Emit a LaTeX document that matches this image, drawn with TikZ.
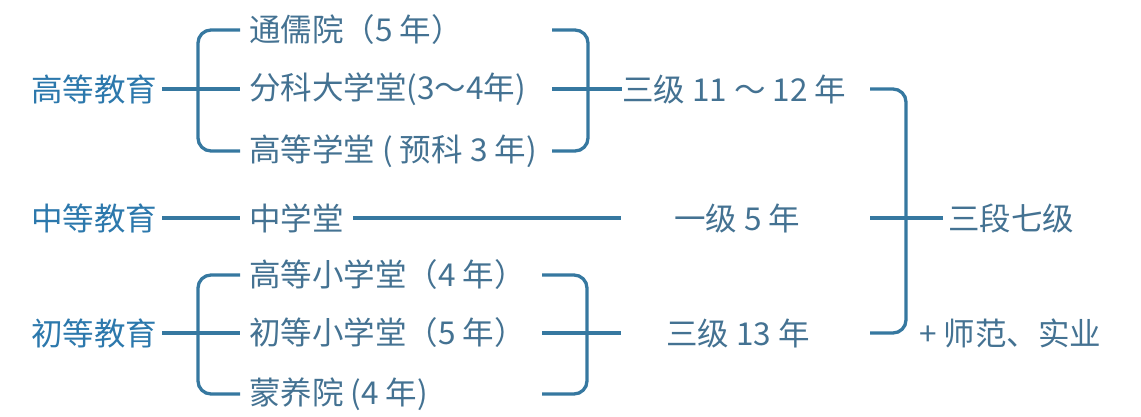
\documentclass[tikz,border=0pt]{standalone}
\usepackage{fontspec}
\setmainfont{Noto Sans CJK SC}
\usepackage{xcolor}
\usetikzlibrary{positioning,calc}
\definecolor{lineblue}{RGB}{54,120,160}
\definecolor{catblue}{RGB}{44,120,172}
\definecolor{itemblue}{RGB}{68,114,146}

\begin{document}
\begin{tikzpicture}[x=1pt, y=-1pt,
    level/.style={anchor=west, inner sep=0pt, text=catblue,
        font=\fontsize{31.5}{36}\selectfont},
    school/.style={anchor=west, inner sep=0pt, text=itemblue,
        font=\fontsize{31.5}{36}\selectfont},
    link/.style={draw=lineblue, line width=3.3pt},
    brace/.style={link, rounded corners=13pt}
]
    \useasboundingbox (0,0) rectangle (1141,416);

    \node[level] (gaodeng) at (31,89) {高等教育};
    \node[level] (zhongdeng) at (31,218) {中等教育};
    \node[level] (chudeng) at (31,333) {初等教育};

    \node[school] (tongru) at (249,30) {通儒院（5 年）};
    \node[school] (fenke) at (249,89) {分科大学堂(3～4年)};
    \node[school] (gaoxue) at (249,151) {高等学堂 ( 预科 3 年)};
    \node[school] (zhongxue) at (249,218) {中学堂};
    \node[school] (gaoxiao) at (249,275) {高等小学堂（4 年）};
    \node[school] (chuxiao) at (249,333) {初等小学堂（5 年）};
    \node[school] (mengyang) at (249,394) {蒙养院 (4 年)};

    \node[school] (sanji) at (622,89) {三级 11 ～ 12 年};
    \node[school] (yiji) at (674,218) {一级 5 年};
    \node[school] (sanjib) at (666,333) {三级 13 年};
    \node[school] (sanduan) at (948,218) {三段七级};
    \node[school] (shifan) at (919,333) {+ 师范、实业};

    \coordinate (lspine) at (198,0);
    \coordinate (rstart) at (552,0);
    \coordinate (rspine) at (588,0);
    \coordinate (rstartb) at (542,0);
    \coordinate (rspineb) at (587,0);
    \coordinate (rend) at (621,0);
    \coordinate (bstart) at (870,0);
    \coordinate (bspine) at (906,0);

    \draw[link] ([xshift=5pt]gaodeng.east) -- ([xshift=-9pt]fenke.west);
    \draw[brace] ([xshift=-9pt]tongru.west) -| (lspine |- gaoxue) -- ([xshift=-9pt]gaoxue.west);
    \draw[brace] (tongru -| rstart) -| (rspine |- gaoxue) -- (gaoxue -| rstart);
    \draw[link] (fenke -| rstart) -- (sanji.west);

    \draw[link] ([xshift=5pt]zhongdeng.east) -- ([xshift=-9pt]zhongxue.west);
    \draw[link] ([xshift=9.5pt]zhongxue.east) -- (zhongxue -| rend);

    \draw[link] ([xshift=5pt]chudeng.east) -- ([xshift=-9pt]chuxiao.west);
    \draw[brace] ([xshift=-9pt]gaoxiao.west) -| (lspine |- mengyang) -- ([xshift=-9pt]mengyang.west);
    \draw[brace] (gaoxiao -| rstartb) -| (rspineb |- mengyang) -- (mengyang -| rstartb);
    \draw[link] (chuxiao -| rstartb) -- (chuxiao -| rend);

    \draw[brace] (sanji -| bstart) -| (bspine |- sanjib) -- (sanjib -| bstart);
    \draw[link] (yiji -| bstart) -- ([xshift=-5pt]sanduan.west);
\end{tikzpicture}
\end{document}
